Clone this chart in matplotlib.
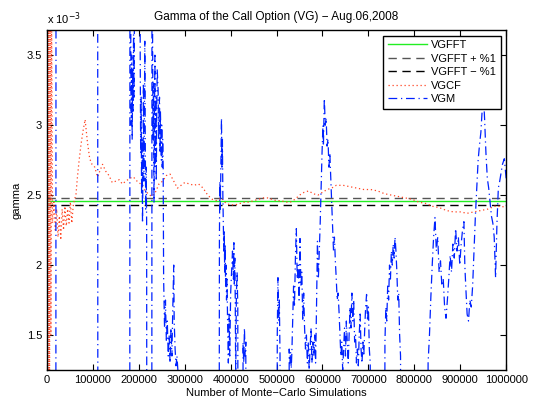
import numpy as np
import matplotlib
matplotlib.use('Agg')
from matplotlib import pyplot as plt
from matplotlib.ticker import FuncFormatter

plt.rcParams['font.family'] = ['Liberation Sans', 'DejaVu Sans']
plt.rcParams['font.size'] = 8

## gamma values are kept in units of 1e-3, number of simulations in thousands
vgfft = 2.457
vgfft_up = 2.482
vgfft_dn = 2.432

vgcf_n = [1, 2.5, 4, 5.5, 7, 8.5, 10, 12, 15, 18, 21, 24, 27, 30, 33, 36, 39, 42, 45, 48,
          51, 54, 57, 60, 63, 66, 70, 74, 78, 83, 88, 93, 98, 104, 110, 116, 121, 128, 135,
          142, 150, 157, 164, 172, 180, 188, 196, 204, 212, 220, 228, 236, 244, 252, 260,
          268, 276, 284, 292, 300, 310, 320, 330, 340, 350, 360, 370, 380, 390, 400, 410,
          420, 430, 440, 450, 460, 470, 480, 490, 500, 510, 520, 530, 540, 550, 560, 570,
          580, 590, 600, 610, 620, 630, 645, 660, 675, 690, 705, 720, 735, 750, 765, 780,
          795, 810, 825, 840, 855, 870, 885, 900, 915, 930, 945, 960, 975, 990, 1000]
vgcf = [6.0, 0.5, 5.5, 0.8, 4.5, 1.5, 3.8, 2.3, 2.45, 2.25, 2.4, 2.2, 2.35, 2.18, 2.4, 2.25,
        2.42, 2.28, 2.4, 2.3, 2.45, 2.3, 2.42, 2.47, 2.5, 2.62, 2.75, 2.86, 2.95, 3.04, 2.88,
        2.76, 2.72, 2.7, 2.63, 2.68, 2.72, 2.67, 2.64, 2.59, 2.6, 2.61, 2.58, 2.6, 2.62, 2.63,
        2.6, 2.58, 2.54, 2.51, 2.49, 2.52, 2.58, 2.6, 2.64, 2.65, 2.6, 2.55, 2.57, 2.59, 2.58,
        2.57, 2.58, 2.55, 2.5, 2.47, 2.46, 2.48, 2.44, 2.43, 2.43, 2.44, 2.45, 2.45, 2.46,
        2.47, 2.48, 2.48, 2.47, 2.46, 2.46, 2.45, 2.45, 2.47, 2.5, 2.52, 2.53, 2.51, 2.5,
        2.52, 2.54, 2.55, 2.57, 2.57, 2.56, 2.55, 2.54, 2.54, 2.53, 2.51, 2.5, 2.49, 2.48,
        2.47, 2.45, 2.44, 2.42, 2.41, 2.39, 2.38, 2.38, 2.37, 2.38, 2.39, 2.4, 2.42, 2.42, 2.41]

vgm_n = [5, 19, 20, 110, 111, 180, 181, 182.5, 183.5, 184.5, 185.5, 186.5, 187.5, 188.5,
         189.5, 190.5, 192, 202, 203, 204, 205, 206, 207, 208, 209, 210, 211, 212, 213, 214,
         215, 216, 217, 218, 228, 229, 230, 231, 232, 233, 234, 235, 236, 237, 238, 239, 240,
         242, 243, 245, 246, 247, 249, 250, 251, 252, 253, 254, 256, 258, 260, 262, 264, 266,
         268, 270, 272, 274, 276, 277, 279, 281, 283, 285, 287,
         374, 375.5, 376.5, 377.5, 379, 380, 381, 382, 383, 384, 385, 386, 387, 388, 389, 390,
         391, 392, 393.5, 395, 396.5, 398, 400, 402, 404, 406, 407, 408, 409, 410, 411, 412.5,
         414, 415.5, 417, 426, 427, 428.5, 430, 431.5, 433, 434,
         500, 501.5, 503, 504.5, 506, 507.5, 509, 526, 527.5, 529, 530.5, 532, 533.5, 535,
         537, 539, 541, 543, 545, 547, 549, 551, 553, 555, 557, 559, 561, 563, 565, 567, 569,
         571, 573, 575, 577, 579, 581, 583, 585, 587, 589, 591, 593, 595, 597, 599, 601, 602,
         604, 606, 608, 610, 612, 614, 616, 618, 620, 622, 624, 626, 628, 630, 632, 634, 636,
         638, 640, 642, 644, 646, 648, 650, 652, 654, 656, 658, 660, 662, 664, 666, 668, 670,
         672, 674, 676, 678, 680, 682, 684, 686, 688, 690, 692, 694, 696, 698, 700, 702, 704,
         706, 734, 736, 738, 740, 742, 744, 746, 748, 750, 752, 754, 756, 758, 760, 762, 764,
         766, 768, 770, 772,
         828, 830, 833, 836, 839, 842, 845, 848, 851, 854, 857, 860, 863, 866, 869, 872, 875,
         878, 881, 884, 887, 890, 893, 896, 899, 902, 905, 908, 910, 912, 915, 918, 921, 924,
         927, 930, 933, 936, 939, 942, 945, 948, 950, 953, 956, 959, 962, 965, 968, 971, 974,
         977, 980, 983, 986, 989, 992, 996, 1000]
vgm = [-3, -3, 9, 9, -3, -3, 9, 3.6, 3.0, 3.5, 2.9, 3.4, 3.1, 3.65,
       3.2, 3.8, 9, 9, 3.5, 2.8, 3.2, 2.5, 2.9, 2.3, 2.7, 3.3, 2.6, 3.0, 3.6, 2.9,
       2.4, 2.7, 2.3, -3, -3, 9, 3.6, 2.9, 3.3, 2.45, 3.0, 3.5, 2.7, 3.2, 2.6, 3.1, 3.4,
       3.25, 2.9, 3.2, 2.8, 3.1, 2.75, 3.0, 2.7, 2.9, 2.7, 1.9, 1.55, 1.75, 1.45, 1.6, 1.35,
       1.5, 1.3, 1.55, 1.35, 1.7, 2.0, 1.6, 1.4, 1.28, 1.35, 1.25, -3,
       -3, 2.2, 2.6, 2.4, 2.8, 3.05, 2.7, 2.9, 2.5, 2.3, 2.1, 2.25, 1.95, 2.15, 1.85, 2.0,
       1.75, 1.9, 1.55, 1.3, 1.65, 1.35, 1.8, 1.95, 2.1, 1.9, 2.16, 1.85, 2.05, 1.75, 1.2,
       1.8, 1.95, 1.7, -3, -3, 1.45, 1.3, 1.55, 1.35, 1.45, -3,
       -3, 1.5, 1.91, 1.6, 1.75, 1.35, -3, -3, 1.4, 1.3, 1.38, 1.26, 1.4, 1.6,
       1.85, 1.7, 2.05, 2.26, 1.9, 2.0, 1.75, 2.19, 1.85, 1.95, 1.6, 1.8, 1.55, 1.4, 1.5,
       1.3, 1.45, 1.25, 1.4, 1.55, 1.3, 1.45, 1.35, 1.5, 1.3, 1.7, 2.17, 1.9, 2.1, 2.3,
       2.55, 2.8, 3.0, 2.85, 3.19, 3.0, 3.05, 2.85, 2.9, 2.7, 2.8, 2.62, 2.45, 2.26, 2.1,
       2.2, 2.03, 1.9, 1.75, 1.8, 1.67, 1.5, 1.35, 1.45, 1.25, 1.4, 1.55, 1.35, 1.6, 1.45,
       1.3, 1.5, 1.7, 1.55, 1.8, 1.6, 1.75, 1.45, 1.5, 1.3, 1.4, 1.28, 1.5, 1.65, 1.4, 1.3,
       1.45, 1.35, 1.55, 1.7, 1.79, 1.6, 1.7, 1.4, 1.3, -3, -3, 1.45, 1.7, 1.6, 1.85, 1.75,
       2.0, 1.9, 2.1, 2.0, 2.15, 2.05, 2.2, 2.1, 1.95, 1.75, 1.8, 1.5, 1.35, -3,
       -3, 1.3, 1.5, 1.77, 2.0, 2.2, 2.34, 2.1, 2.2, 1.95, 2.03, 1.85, 1.9, 1.7, 1.62, 1.75,
       1.9, 2.07, 1.95, 2.15, 2.05, 2.26, 2.1, 2.2, 2.0, 2.15, 2.25, 2.31, 2.0, 1.85, 1.65,
       1.6, 1.75, 1.7, 1.85, 2.1, 2.35, 2.55, 2.75, 2.86, 2.95, 3.12, 3.25, 3.05, 2.8, 2.62,
       2.55, 2.45, 2.35, 2.3, 2.2, 1.91, 2.3, 2.55, 2.6, 2.66, 2.72, 2.76, 2.62]

xt = np.arange(0, 1000001, 100000)
yt = [1.5, 2, 2.5, 3, 3.5]

fig = plt.figure(figsize=(5.36, 4.05), dpi=100)
ax = fig.add_axes([0.0877, 0.0864, 0.8566, 0.8395])

n_cf = np.array(vgcf_n) * 1000
n_m = np.array(vgm_n) * 1000

ax.plot([0, 1e6], [vgfft * 1e-3] * 2, '-', color='#22ee22', lw=1.0, label='VGFFT')
ax.plot([0, 1e6], [vgfft_up * 1e-3] * 2, '--', color='#555555', lw=1.0,
        dashes=(6, 4), label='VGFFT + %1')
ax.plot([0, 1e6], [vgfft_dn * 1e-3] * 2, '--', color='black', lw=1.0,
        dashes=(6, 4), label='VGFFT \u2212 %1')
ax.plot(n_cf, np.array(vgcf) * 1e-3, color='#ff4422', lw=0.9,
        linestyle=(0, (1, 2.2)), label='VGCF')
ax.plot(n_m, np.array(vgm) * 1e-3, '-.', color='#0022ff', lw=0.9,
        dashes=(7, 3, 1, 3), label='VGM')

ax.set_xlim(0, 1e6)
ax.set_ylim(1.25e-3, 3.68e-3)
ax.set_xticks(xt)
ax.xaxis.set_major_formatter(FuncFormatter(lambda v, p: '%d' % v))
ax.set_yticks([v * 1e-3 for v in yt])
ax.yaxis.set_major_formatter(FuncFormatter(lambda v, p: '%g' % round(v * 1e3, 3)))
ax.tick_params(direction='in', top=True, right=True, length=4, width=0.8, labelsize=8)
for s in ax.spines.values():
    s.set_linewidth(1.0)

ax.text(0.0, 1.008, 'x 10$^{-3}$', transform=ax.transAxes, ha='left', va='bottom', fontsize=8)
ax.set_title('Gamma of the Call Option (VG) \u2212 Aug.06,2008', fontsize=8.5, pad=7)
ax.set_xlabel('Number of Monte\u2212Carlo Simulations', fontsize=8, labelpad=2)
ax.set_ylabel('gamma', fontsize=8, labelpad=4)

leg = ax.legend(loc='upper right', fontsize=8, handlelength=3.5, fancybox=False,
                framealpha=1, edgecolor='black', borderaxespad=0.5, labelspacing=0.32,
                handletextpad=0.4, borderpad=0.4)
leg.get_frame().set_linewidth(1.0)

fig.savefig('out.png', dpi=100)
